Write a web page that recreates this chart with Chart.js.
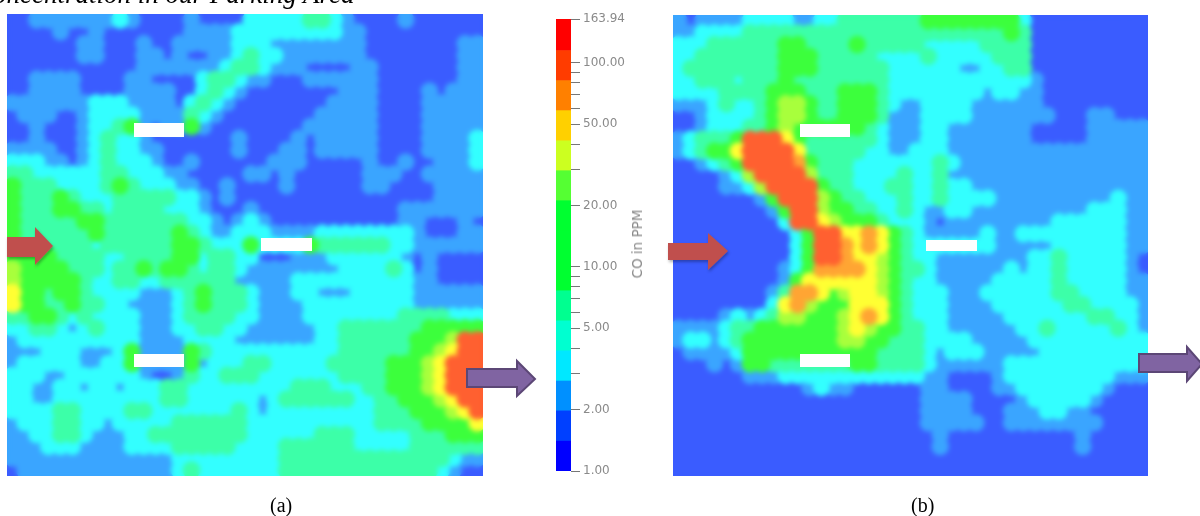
<!DOCTYPE html>
<html>
<head>
<meta charset="utf-8">
<script src="https://cdn.jsdelivr.net/npm/chart.js@4"></script>
<style>
html,body{margin:0;padding:0;background:#fff;width:1200px;height:516px;overflow:hidden}
canvas{position:absolute;display:block}
.t{position:absolute;white-space:nowrap;color:#000;font-family:"Liberation Serif",serif}
.bar{position:absolute;background:#fff}
svg{position:absolute;left:0;top:0}
</style>
</head>
<body>
<canvas id="panelA" width="476" height="462" style="left:7px;top:14px"></canvas>
<canvas id="panelB" width="475" height="461" style="left:673px;top:15px"></canvas>
<canvas id="scale" width="90" height="516" style="left:556px;top:0;filter:blur(.45px)"></canvas>

<div class="bar" style="left:134px;top:123px;width:50px;height:14px"></div>
<div class="bar" style="left:261px;top:238px;width:51px;height:13px"></div>
<div class="bar" style="left:134px;top:354px;width:50px;height:13px"></div>
<div class="bar" style="left:800px;top:124px;width:50px;height:13px"></div>
<div class="bar" style="left:926px;top:240px;width:51px;height:11px"></div>
<div class="bar" style="left:800px;top:354px;width:50px;height:13px"></div>

<svg width="1200" height="516">
  <defs><filter id="s" x="-20%" y="-20%" width="150%" height="150%"><feDropShadow dx="1" dy="2" stdDeviation="1.5" flood-color="#000" flood-opacity=".3"/></filter></defs>
  <polygon filter="url(#s)" fill="#c0504d" points="7,237 35,237 35,227 53,246 35,265 35,257 7,257"/>
  <polygon filter="url(#s)" fill="#c0504d" points="668,243 708,243 708,233 728,251 708,270 708,260 668,260"/>
  <polygon fill="#8064a2" stroke="#5c4776" stroke-width="2" points="467,369 517,369 517,361 535,379 517,396 517,387 467,387"/>
  <polygon fill="#8064a2" stroke="#5c4776" stroke-width="2" points="1139,354 1187,354 1187,347 1202,364 1187,381 1187,372 1139,372"/>
</svg>

<div class="t" style="left:-25px;top:-21px;font-size:27px;font-style:italic">Concentration in our Parking Area</div>
<div class="t" style="left:270px;top:494px;font-size:20px">(a)</div>
<div class="t" style="left:911px;top:494px;font-size:20px">(b)</div>
<div class="t" style="left:637px;top:244px;font-family:'DejaVu Sans',sans-serif;font-size:13.5px;color:#8a8a8a;transform:translate(-50%,-50%) rotate(-90deg);filter:blur(.4px)">CO in PPM</div>

<script>
// CO level class of every cell (1 = lowest class, 9 = highest)
const panelA = [
"1122222223211112111133333443211112111111",
"1111211211111112222333333333221111111111",
"1111112211121122222333222222221111111122",
"1111112211122121122343322222221111111122",
"1111111111122222223443222111122111111122",
"1122221111221111344322111222222111111122",
"1122221111222211343211111111222111121222",
"2222222333222213432111111112222111122222",
"1222112333322224321111111122222111122222",
"1121112334521225211111111222222111122222",
"1121112343321111111211112122222111122223",
"2222112343322111111211122122222111122223",
"3332212343332112111111222111112112112223",
"4433333344333221111122121111112221122222",
"5444333345433322112111121111112211112222",
"5444543334444433212111111111111111112222",
"5444554434444333211121111111111112222222",
"5444445544444443321232111111111112211121",
"5444444544444454322333222233333333211122",
"5444444344444455433353333544444433222222",
"5555444433444455344331112223333332121111",
"6555544434454554344322222222333343121111",
"6555554334433444444222223333333333221111",
"7554554333322234544432223322233333222222",
"7554454433222234544432222333333333222222",
"4455434333322234444332222333333334444333",
"3344323433322233443322222233444444455555",
"2333333333322223333222222233444444555699",
"2223332223522225433333333333444444556799",
"2333332233522225233344333334444455567999",
"3332233333321124334443333333444455567999",
"3322332332333443333333334443334455567999",
"3322333333333443333332344444433445556799",
"3333443333443333333432333333333444555679",
"2333443323333344444433333333333444455557",
"2233443222334444444433333344433333444555",
"2223332222333344444333344444433333444444",
"2222222222222233333333344444444444444322",
"1222222222222234333333344444444444443211"
];
const panelB = [
"2122223333223344444445555555531111111111",
"2233334444444444444444444444541111111111",
"3334444445544445444443333344441111111111",
"3344444445554444433334333334441111111111",
"3444444445554444443333332233441111111111",
"3344434445444444443333333333332111111111",
"3333444455544455543333333323322111111111",
"2223433456654455543223333222222111111111",
"1123333456654455542223333222222211122111",
"1123334456555555432223322222221111122222",
"2344459997544444432223322222221111122222",
"2345579999744444332233322222222222222222",
"1123459999854443333333432222222222222222",
"1111236999964443333433422222222222222222",
"1111223699995443334433433222222222222222",
"1111111259996544333433433332222222222322",
"1111111125996554433432233222222222233322",
"1111111113997655543332122222222233333322",
"1111111111359977875432222232233333333322",
"1111111111359987875433333332222233333322",
"1111111111359987765433222222223343333321",
"1111111112358888765443222222323343333321",
"1111111112577777765433222223333343333322",
"1111111124887567765433322233333344333322",
"1111111137865557775433322223333334433332",
"1111232346655567875433322222333333344332",
"2222344555555567655443322222233433333432",
"2332345555555566554443333222223333333333",
"1222235555555555544443233322222333333333",
"1112125544444445544443222222333333333333",
"1111112223333333333332211112333333333222",
"1111111111123221111112211112233333332111",
"1111111111111111111112222111123333321111",
"1111111111111111111112222111222332211111",
"1111111111111111111112222211222222221111",
"1111111111111111111111211111111111211111",
"1111111111111111111111211111111111211111",
"1111111111111111111111111111111111111111",
"1111111111111111111111111111111111111111"
];
const levelIds = ["1","2","3","4","5","6","7","8","9"];
const levelColors = ["#3a5cff","#3aa5ff","#33ffff","#3cffa8","#3cff3c","#a8ff3c","#ffff33","#ffa533","#ff6030"];

// colour scale
const bandEdges = [1,1.40,1.97,2.76,3.88,5.44,7.64,10.7,15.0,21.1,29.6,41.5,58.3,81.8,114.8,163.94];
const bandColors = ["#0000ff","#0040ff","#0090ff","#00e8ff","#00ffd0","#00ff90","#00ff30","#00ff30","#00ff30","#55ff33","#ccff20","#ffd000","#ff8000","#ff3c00","#ff0000"];
const tickValues = [1,2,3,4,5,6,7,8,9,10,20,30,40,50,60,70,80,90,100,163.94];
const labelledTicks = [1,2,5,10,20,50,100,163.94];

const softEdges = {
  id:"softEdges",
  afterDatasetsDraw(chart){
    const c = chart.ctx;
    c.save();
    c.filter = "blur(2.5px)";
    c.drawImage(chart.canvas,0,0,chart.width,chart.height);
    c.restore();
  }
};

function drawPanel(id,grid){
  const rows = grid.length, cols = grid[0].length;
  const canvas = document.getElementById(id);
  const side = Math.max(canvas.width/cols,canvas.height/rows);
  const datasets = levelIds.map((lv,i)=>{
    const pts = [];
    grid.forEach((row,r)=>{ for(let c=0;c<cols;c++) if(row[c]===lv) pts.push({x:c,y:r}); });
    // order: lower classes underneath, higher classes painted on top
    return {label:"Level "+lv,data:pts,order:levelIds.length-i,pointStyle:"circle",pointRadius:side*0.74,pointBorderWidth:0,
            backgroundColor:levelColors[i],pointBackgroundColor:levelColors[i]};
  });
  new Chart(canvas,{
    type:"scatter",
    data:{datasets},
    plugins:[softEdges],
    options:{
      responsive:false,animation:false,devicePixelRatio:1,events:[],
      layout:{padding:0,autoPadding:false},
      plugins:{legend:{display:false},tooltip:{enabled:false}},
      scales:{
        x:{type:"linear",display:false,min:-0.5,max:cols-0.5},
        y:{type:"linear",display:false,min:-0.5,max:rows-0.5,reverse:true}
      }
    }
  });
}
drawPanel("panelA",panelA);
drawPanel("panelB",panelB);

new Chart(document.getElementById("scale"),{
  type:"bar",
  data:{
    labels:["CO in PPM"],
    datasets:bandColors.map((col,i)=>({
      label:bandEdges[i]+"-"+bandEdges[i+1],
      data:[[bandEdges[i],bandEdges[i+1]]],
      backgroundColor:col,borderWidth:0,borderSkipped:false,
      barPercentage:1,categoryPercentage:1,grouped:false
    }))
  },
  options:{
    responsive:false,animation:false,devicePixelRatio:1,events:[],
    layout:{padding:{top:19,bottom:45,left:0,right:0}},
    plugins:{legend:{display:false},tooltip:{enabled:false}},
    scales:{
      x:{display:false,grid:{display:false}},
      y:{
        type:"logarithmic",position:"right",min:1,max:163.94,
        afterFit(s){s.width=75;},
        afterBuildTicks(s){s.ticks=tickValues.map(v=>({value:v}));},
        border:{display:false},
        grid:{drawOnChartArea:false,color:"#777",tickLength:9,lineWidth:1},
        ticks:{
          autoSkip:false,maxRotation:0,padding:3,color:"#8a8a8a",
          font:{family:"'DejaVu Sans',sans-serif",size:12},
          callback:v=>labelledTicks.includes(v)?v.toFixed(2):""
        }
      }
    }
  }
});
</script>
</body>
</html>
